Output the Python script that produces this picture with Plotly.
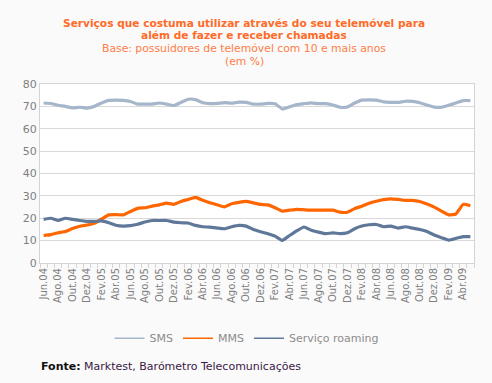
import plotly.graph_objects as go

months = ["Jun.04","Jul.04","Ago.04","Set.04","Out.04","Nov.04","Dez.04",
          "Jan.05","Fev.05","Mar.05","Abr.05","Mai.05","Jun.05","Jul.05","Ago.05","Set.05","Out.05","Nov.05","Dez.05",
          "Jan.06","Fev.06","Mar.06","Abr.06","Mai.06","Jun.06","Jul.06","Ago.06","Set.06","Out.06","Nov.06","Dez.06",
          "Jan.07","Fev.07","Mar.07","Abr.07","Mai.07","Jun.07","Jul.07","Ago.07","Set.07","Out.07","Nov.07","Dez.07",
          "Jan.08","Fev.08","Mar.08","Abr.08","Mai.08","Jun.08","Jul.08","Ago.08","Set.08","Out.08","Nov.08","Dez.08",
          "Jan.09","Fev.09","Mar.09","Abr.09","Mai.09"]

sms = [71.5, 71.3, 70.5, 70.0, 69.3, 69.6, 69.2, 70.0, 71.5, 72.7,
       72.8, 72.7, 72.2, 71.0, 71.0, 71.0, 71.5, 71.0, 70.4, 71.8,
       73.2, 73.0, 71.6, 71.2, 71.3, 71.7, 71.4, 71.9, 71.8, 71.0,
       71.0, 71.3, 71.2, 68.8, 69.8, 70.8, 71.2, 71.6, 71.2, 71.2,
       70.6, 69.6, 69.7, 71.5, 72.8, 72.9, 72.8, 72.0, 71.8, 71.8,
       72.3, 72.2, 71.6, 70.6, 69.7, 69.6, 70.5, 71.5, 72.6, 72.6]

mms = [12.3, 12.7, 13.5, 14.1, 15.4, 16.4, 17.0, 17.8, 19.6, 21.5,
       21.6, 21.5, 23.0, 24.4, 24.7, 25.4, 26.0, 26.8, 26.2, 27.5,
       28.4, 29.3, 28.0, 26.9, 26.0, 25.1, 26.5, 27.1, 27.5, 26.9,
       26.2, 26.0, 24.7, 23.2, 23.6, 24.0, 23.8, 23.6, 23.6, 23.6,
       23.6, 22.7, 22.7, 24.3, 25.4, 26.7, 27.6, 28.3, 28.7, 28.4,
       28.0, 28.0, 27.5, 26.4, 25.0, 23.2, 21.5, 21.9, 26.2, 25.6]

roaming = [19.5, 20.0, 19.0, 20.0, 19.5, 19.0, 18.6, 18.6, 18.8, 18.0,
           16.9, 16.5, 16.7, 17.3, 18.3, 19.0, 19.0, 19.0, 18.3, 18.0,
           17.9, 16.8, 16.2, 16.0, 15.6, 15.3, 16.2, 16.8, 16.5, 15.0,
           14.0, 13.1, 12.0, 10.1, 12.3, 14.4, 16.1, 14.6, 13.8, 13.1,
           13.5, 13.1, 13.5, 15.3, 16.5, 17.1, 17.2, 16.2, 16.5, 15.6,
           16.2, 15.6, 15.0, 14.1, 12.5, 11.3, 10.2, 11.0, 11.8, 11.8]

series_names = ["SMS", "MMS", "Serviço roaming"]
series_values = [sms, mms, roaming]
colors = ["#a6b6ca", "#ff6600", "#5f7899"]

y_ticks = [0, 10, 20, 30, 40, 50, 60, 70, 80]

title_lines = ["Serviços que costuma utilizar através do seu telemóvel para",
               "além de fazer e receber chamadas"]
subtitle_lines = ["Base: possuidores de telemóvel com 10 e mais anos", "(em %)"]

x = list(range(len(months)))
FONT = "DejaVu Sans"

fig = go.Figure()
for name, vals, col in zip(series_names, series_values, colors):
    fig.add_trace(go.Scatter(x=x, y=vals, mode="lines", name=name,
                             line=dict(color=col, width=3.2, shape="spline", smoothing=0.4),
                             showlegend=False, hoverinfo="skip"))
for name, col in zip(series_names, colors):
    fig.add_trace(go.Scatter(x=[None], y=[None], mode="lines", name=name,
                             line=dict(color=col, width=1.5), showlegend=True))

fig.update_layout(
    width=492, height=383,
    margin=dict(l=40, r=18, t=84, b=120),
    paper_bgcolor="#fafafa", plot_bgcolor="#ffffff",
    font=dict(family=FONT, size=10, color="#7f7f7f"),
    xaxis=dict(range=[-0.5, len(months) - 0.5],
               tickvals=x[::2], ticktext=months[::2], tickangle=-90,
               ticks="", showgrid=False, zeroline=False,
               showline=True, linecolor="#d4d4d4", linewidth=1, mirror=True,
               tickfont=dict(size=10, color="#7f7f7f", family=FONT),
               minor=dict(ticks="outside", tick0=-0.5, dtick=1, ticklen=4,
                          tickcolor="#d4d4d4", showgrid=False),
               fixedrange=True, automargin=False),
    yaxis=dict(range=[0, 80], tickvals=y_ticks, ticks="",
               showgrid=True, gridcolor="#d9d9d9", gridwidth=1, zeroline=False,
               showline=True, linecolor="#d4d4d4", linewidth=1, mirror=True,
               tickfont=dict(size=11, color="#7f7f7f", family=FONT),
               fixedrange=True, automargin=False),
    legend=dict(orientation="h", x=0.477, xanchor="center", y=-0.42, yanchor="middle",
                font=dict(size=11, color="#8c8c8c", family=FONT),
                bgcolor="rgba(0,0,0,0)", itemwidth=30, tracegroupgap=0),
    showlegend=True,
)

def py(pix):
    return (263 - pix) / 179

CX = 0.471
for txt, ypix in zip(title_lines, [22.5, 34.5]):
    fig.add_annotation(xref="paper", yref="paper", x=CX, y=py(ypix), xanchor="center", yanchor="middle",
                       text="<b>" + txt + "</b>", showarrow=False,
                       font=dict(size=10.6, color="#ff6a28", family=FONT))
for txt, ypix in zip(subtitle_lines, [48.3, 61.5]):
    fig.add_annotation(xref="paper", yref="paper", x=CX, y=py(ypix), xanchor="center", yanchor="middle",
                       text=txt, showarrow=False,
                       font=dict(size=10.8, color="#ff7d45", family=FONT))
fig.add_annotation(xref="paper", yref="paper", x=-0.002, y=py(366), xanchor="left", yanchor="middle",
                   text="<b><span style='color:#111111'>Fonte:</span></b> Marktest, Barómetro Telecomunicações",
                   showarrow=False, font=dict(size=11, color="#3a1845", family=FONT))

fig.write_html("out.html", post_script="document.body.style.margin='0';document.body.style.background='#fafafa';",
               config={"displayModeBar": False})
